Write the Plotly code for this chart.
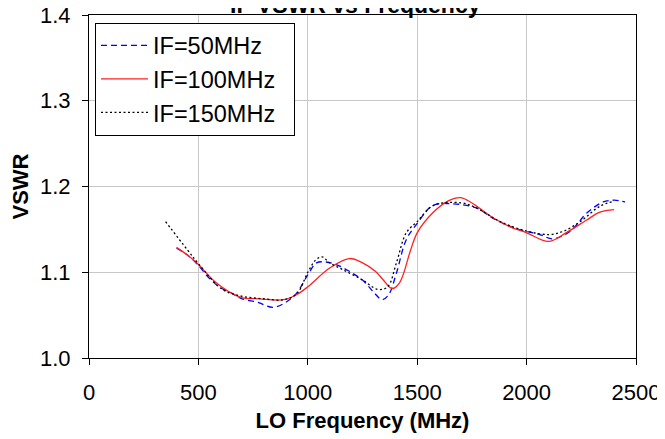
import plotly.graph_objects as go

# LO frequency (MHz) and VSWR for each IF
x_if50 = [400, 450, 500, 550, 600, 650, 700, 770, 840, 900, 950, 1000, 1040, 1080, 1130, 1190, 1250, 1300, 1340, 1370, 1405, 1450, 1500, 1560, 1600, 1650, 1700, 1770, 1860, 1950, 2060, 2120, 2200, 2275, 2350, 2400, 2450]
y_if50 = [1.128, 1.120, 1.108, 1.093, 1.082, 1.076, 1.069, 1.065, 1.059, 1.065, 1.076, 1.097, 1.111, 1.112, 1.109, 1.101, 1.091, 1.077, 1.068, 1.074, 1.099, 1.138, 1.157, 1.176, 1.180, 1.180, 1.179, 1.175, 1.161, 1.151, 1.144, 1.139, 1.148, 1.169, 1.182, 1.184, 1.182]

x_if100 = [400, 450, 500, 580, 690, 780, 890, 950, 1000, 1100, 1190, 1250, 1310, 1345, 1385, 1420, 1470, 1500, 1570, 1640, 1700, 1850, 1925, 2000, 2100, 2180, 2275, 2335, 2400]
y_if100 = [1.129, 1.120, 1.109, 1.088, 1.071, 1.069, 1.068, 1.074, 1.083, 1.105, 1.116, 1.111, 1.101, 1.091, 1.081, 1.088, 1.126, 1.146, 1.169, 1.183, 1.187, 1.163, 1.153, 1.146, 1.136, 1.146, 1.161, 1.170, 1.173]

x_if150 = [350, 450, 500, 610, 700, 800, 890, 950, 1000, 1035, 1065, 1100, 1160, 1250, 1320, 1365, 1405, 1450, 1500, 1575, 1700, 1770, 1880, 2000, 2105, 2170, 2245, 2335, 2400]
y_if150 = [1.159, 1.126, 1.110, 1.080, 1.072, 1.069, 1.068, 1.075, 1.100, 1.114, 1.118, 1.111, 1.103, 1.091, 1.080, 1.083, 1.111, 1.146, 1.159, 1.178, 1.181, 1.175, 1.159, 1.148, 1.144, 1.148, 1.159, 1.177, 1.183]

x_ticks = [0, 500, 1000, 1500, 2000, 2500]
y_ticks = [1.0, 1.1, 1.2, 1.3, 1.4]
series_names = ["IF=50MHz", "IF=100MHz", "IF=150MHz"]

FONT = "Liberation Sans, Arial, sans-serif"
PAD = "\u00a0\u00a0"

fig = go.Figure()
fig.add_trace(go.Scatter(x=x_if50, y=y_if50, mode="lines", name=series_names[0] + PAD,
                         line=dict(color="#0000ff", width=1.3, dash="6px,4px", shape="spline", smoothing=1.0)))
fig.add_trace(go.Scatter(x=x_if100, y=y_if100, mode="lines", name=series_names[1] + PAD,
                         line=dict(color="#ff2020", width=1.3, shape="spline", smoothing=1.0)))
fig.add_trace(go.Scatter(x=x_if150, y=y_if150, mode="lines", name=series_names[2] + PAD,
                         line=dict(color="#000000", width=1.3, dash="2px,2.5px", shape="spline", smoothing=1.0)))

fig.update_layout(
    width=657, height=431,
    margin=dict(l=81, r=29, t=7, b=81, autoexpand=False),
    paper_bgcolor="white", plot_bgcolor="white",
    font=dict(family=FONT, size=22, color="black"),
    showlegend=True,
    legend=dict(x=0.011, y=0.978, xanchor="left", yanchor="top",
                bordercolor="black", borderwidth=1, bgcolor="white",
                itemwidth=47, font=dict(size=23.5)),
    annotations=[dict(text="<b>IF VSWR vs Frequency</b>", xref="paper", yref="paper",
                      x=0.488, y=1.03, xanchor="center", yanchor="middle",
                      showarrow=False, font=dict(size=23))],
)
fig.update_xaxes(range=[0, 2500], tickvals=x_ticks, ticktext=[str(v) for v in x_ticks],
                 showgrid=True, gridcolor="#c8c8c8", gridwidth=1,
                 showline=True, linecolor="black", linewidth=1, mirror=True,
                 ticks="outside", ticklen=6, tickcolor="black", ticklabelstandoff=9,
                 ticklabeloverflow="allow",
                 zeroline=False, automargin=False,
                 title=dict(text="<b>LO Frequency (MHz)</b>", font=dict(size=22), standoff=8))
fig.update_yaxes(range=[1.0, 1.4], tickvals=y_ticks, ticktext=[f"{v:.1f}" for v in y_ticks],
                 showgrid=True, gridcolor="#c8c8c8", gridwidth=1,
                 showline=True, linecolor="black", linewidth=1, mirror=True,
                 ticks="outside", ticklen=6, tickcolor="black", ticklabelstandoff=7,
                 ticklabeloverflow="allow",
                 zeroline=False, automargin=False,
                 title=dict(text="<b>VSWR</b>", font=dict(size=22), standoff=19))

fig.write_html("out.html")
